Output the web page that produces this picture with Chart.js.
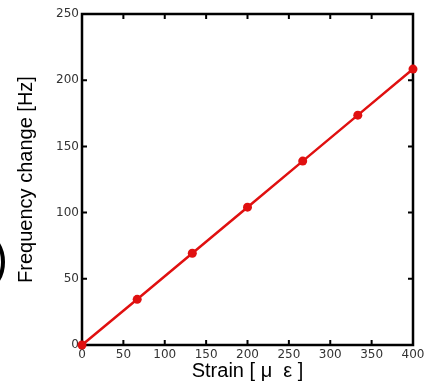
<!DOCTYPE html>
<html>
<head>
<meta charset="utf-8">
<script src="https://cdn.jsdelivr.net/npm/chart.js@4/dist/chart.umd.min.js"></script>
<style>
  html, body { margin: 0; padding: 0; background: #fff; }
  #grafico { display: block; }
</style>
</head>
<body>
<canvas id="grafico" width="429" height="382"></canvas>
<script>
// values
const strain = [0, 66.7, 133.3, 200, 266.7, 333.3, 400];
const freqChange = [0, 34.5, 69.3, 104.1, 138.9, 173.6, 208.4];
const xTicks = [0, 50, 100, 150, 200, 250, 300, 350, 400];
const yTicks = [0, 50, 100, 150, 200, 250];

const points = strain.map((s, i) => ({ x: s, y: freqChange[i] }));

// black frame with inward ticks on all four sides
const framePlugin = {
  id: "frame",
  beforeDatasetsDraw(chart) {
    const { ctx, chartArea: a, scales } = chart;
    ctx.save();
    ctx.strokeStyle = "#000";
    ctx.lineWidth = 2;
    ctx.beginPath();
    scales.x.ticks.forEach(t => {
      const px = scales.x.getPixelForValue(t.value);
      ctx.moveTo(px, a.bottom); ctx.lineTo(px, a.bottom - 5);
      ctx.moveTo(px, a.top); ctx.lineTo(px, a.top + 5);
    });
    scales.y.ticks.forEach(t => {
      const py = scales.y.getPixelForValue(t.value);
      ctx.moveTo(a.left, py); ctx.lineTo(a.left + 5, py);
      ctx.moveTo(a.right, py); ctx.lineTo(a.right - 5, py);
    });
    ctx.stroke();
    ctx.lineWidth = 2.5;
    ctx.strokeRect(a.left, a.top, a.right - a.left, a.bottom - a.top);
    ctx.restore();
  },
  afterDraw(chart) {
    // cut-off panel mark at the left edge
    const ctx = chart.ctx;
    ctx.save();
    ctx.strokeStyle = "#000";
    ctx.lineWidth = 4;
    ctx.beginPath();
    ctx.ellipse(-16, 262, 19, 27, 0, -Math.PI / 2, Math.PI / 2);
    ctx.stroke();
    ctx.restore();
  }
};

let chart = new Chart(document.getElementById("grafico"), {
  type: "scatter",
  data: {
    datasets: [{
      data: points,
      showLine: true,
      borderColor: "#e01010",
      backgroundColor: "#e01010",
      borderWidth: 2.5,
      pointRadius: 4.5,
      pointBorderWidth: 0,
      pointHoverRadius: 4.5,
      clip: false
    }]
  },
  options: {
    responsive: false,
    animation: false,
    events: [],
    layout: { padding: { left: 0, right: 16, top: 14, bottom: 0 } },
    plugins: {
      legend: { display: false },
      tooltip: { enabled: false }
    },
    scales: {
      x: {
        type: "linear",
        min: 0,
        max: 400,
        afterBuildTicks: s => { s.ticks = xTicks.map(v => ({ value: v })); },
        afterFit: s => { s.height = 37; },
        grid: { display: false, drawTicks: false },
        border: { display: false },
        ticks: {
          padding: 3,
          color: "#333",
          font: { family: "DejaVu Sans", size: 12 }
        },
        title: {
          display: true,
          text: "Strain [ μ  ε ]",
          color: "#000",
          font: { family: "Liberation Sans", size: 20, lineHeight: 1.1 },
          padding: { top: 0, bottom: 0 }
        }
      },
      y: {
        min: 0,
        max: 250,
        afterBuildTicks: s => { s.ticks = yTicks.map(v => ({ value: v })); },
        afterFit: s => { s.width = 82; },
        grid: { display: false, drawTicks: false },
        border: { display: false },
        ticks: {
          padding: 3,
          color: "#333",
          font: { family: "DejaVu Sans", size: 12 }
        },
        title: {
          display: true,
          text: "Frequency change [Hz]",
          color: "#000",
          font: { family: "Liberation Sans", size: 20, lineHeight: 1.2 },
          padding: { top: 14, bottom: 14 }
        }
      }
    }
  },
  plugins: [framePlugin]
});
</script>
</body>
</html>
